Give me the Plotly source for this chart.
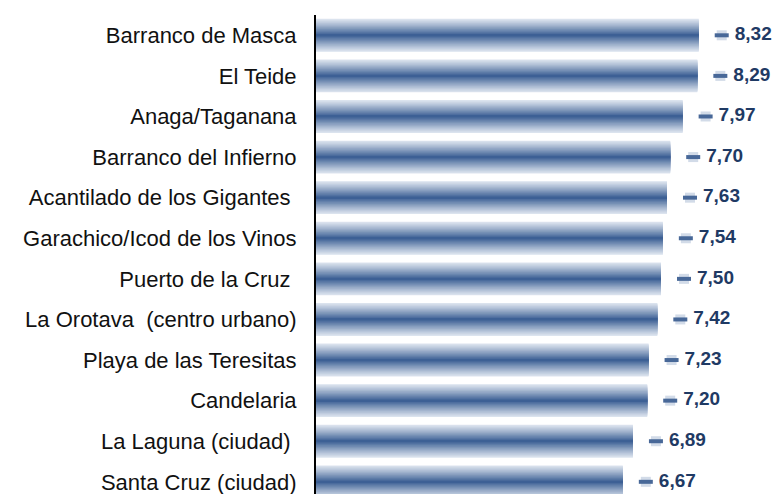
import plotly.graph_objects as go

categories = [
    "Barranco de Masca",
    "El Teide",
    "Anaga/Taganana",
    "Barranco del Infierno",
    "Acantilado de los Gigantes\u00a0",
    "Garachico/Icod de los Vinos",
    "Puerto de la Cruz\u00a0",
    "La Orotava\u00a0 (centro urbano)",
    "Playa de las Teresitas",
    "Candelaria",
    "La Laguna (ciudad)\u00a0",
    "Santa Cruz (ciudad)",
]
values = [8.32, 8.29, 7.97, 7.70, 7.63, 7.54, 7.50, 7.42, 7.23, 7.20, 6.89, 6.67]
value_labels = ["8,32", "8,29", "7,97", "7,70", "7,63", "7,54", "7,50", "7,42", "7,23", "7,20", "6,89", "6,67"]

PX_PER_UNIT = 46.0
light = (223, 230, 240)
dark = (58, 94, 147)

fig = go.Figure()

N = 30
bar_w = 0.81
for k in range(N):
    w = bar_w * (1 - k / N)
    d = 1 - (k + 0.5) / N  # distance from center (0 center, 1 edge)
    f = (1 - d) ** 1.1
    c = tuple(round(light[i] + (dark[i] - light[i]) * f) for i in range(3))
    fig.add_trace(go.Bar(
        x=values, y=categories, orientation="h", width=w,
        marker=dict(color="rgb(%d,%d,%d)" % c, line=dict(width=0)),
        hoverinfo="skip", showlegend=False,
    ))

marker_x = [v + 23 / PX_PER_UNIT for v in values]
fig.add_trace(go.Scatter(
    x=marker_x, y=categories, mode="markers",
    marker=dict(symbol="square", size=10, color="rgb(210,219,232)", line=dict(width=0)),
    hoverinfo="skip", showlegend=False, cliponaxis=False,
))
fig.add_trace(go.Scatter(
    x=marker_x, y=categories, mode="markers",
    marker=dict(symbol="line-ew", size=10, color="rgb(72,104,152)",
                line=dict(width=4, color="rgb(72,104,152)")),
    hoverinfo="skip", showlegend=False, cliponaxis=False,
))
text_x = [v + 36 / PX_PER_UNIT for v in values]
fig.add_trace(go.Scatter(
    x=text_x, y=categories, mode="text", text=value_labels,
    textposition="middle right",
    textfont=dict(family="Liberation Sans, Arial, sans-serif", size=19, color="#1f3a64", weight="bold"),
    hoverinfo="skip", showlegend=False, cliponaxis=False,
))

fig.update_layout(
    width=781, height=494,
    margin=dict(l=316, r=0, t=15, b=0, autoexpand=False),
    barmode="overlay",
    paper_bgcolor="white", plot_bgcolor="white",
    xaxis=dict(visible=False, range=[0, 465 / PX_PER_UNIT], fixedrange=True, automargin=False),
    yaxis=dict(
        type="category", categoryorder="array", categoryarray=categories,
        range=[11.3, -0.5], automargin=False,
        showline=True, linecolor="black", linewidth=2,
        showgrid=False, zeroline=False, ticks="",
        ticklabelstandoff=13,
        tickfont=dict(family="Liberation Sans, Arial, sans-serif", size=22, color="#111111"),
    ),
)

fig.write_html(
    "out.html",
    config={"displayModeBar": False},
    post_script="document.body.style.margin='0';document.body.style.padding='0';document.body.style.overflow='hidden';",
)
